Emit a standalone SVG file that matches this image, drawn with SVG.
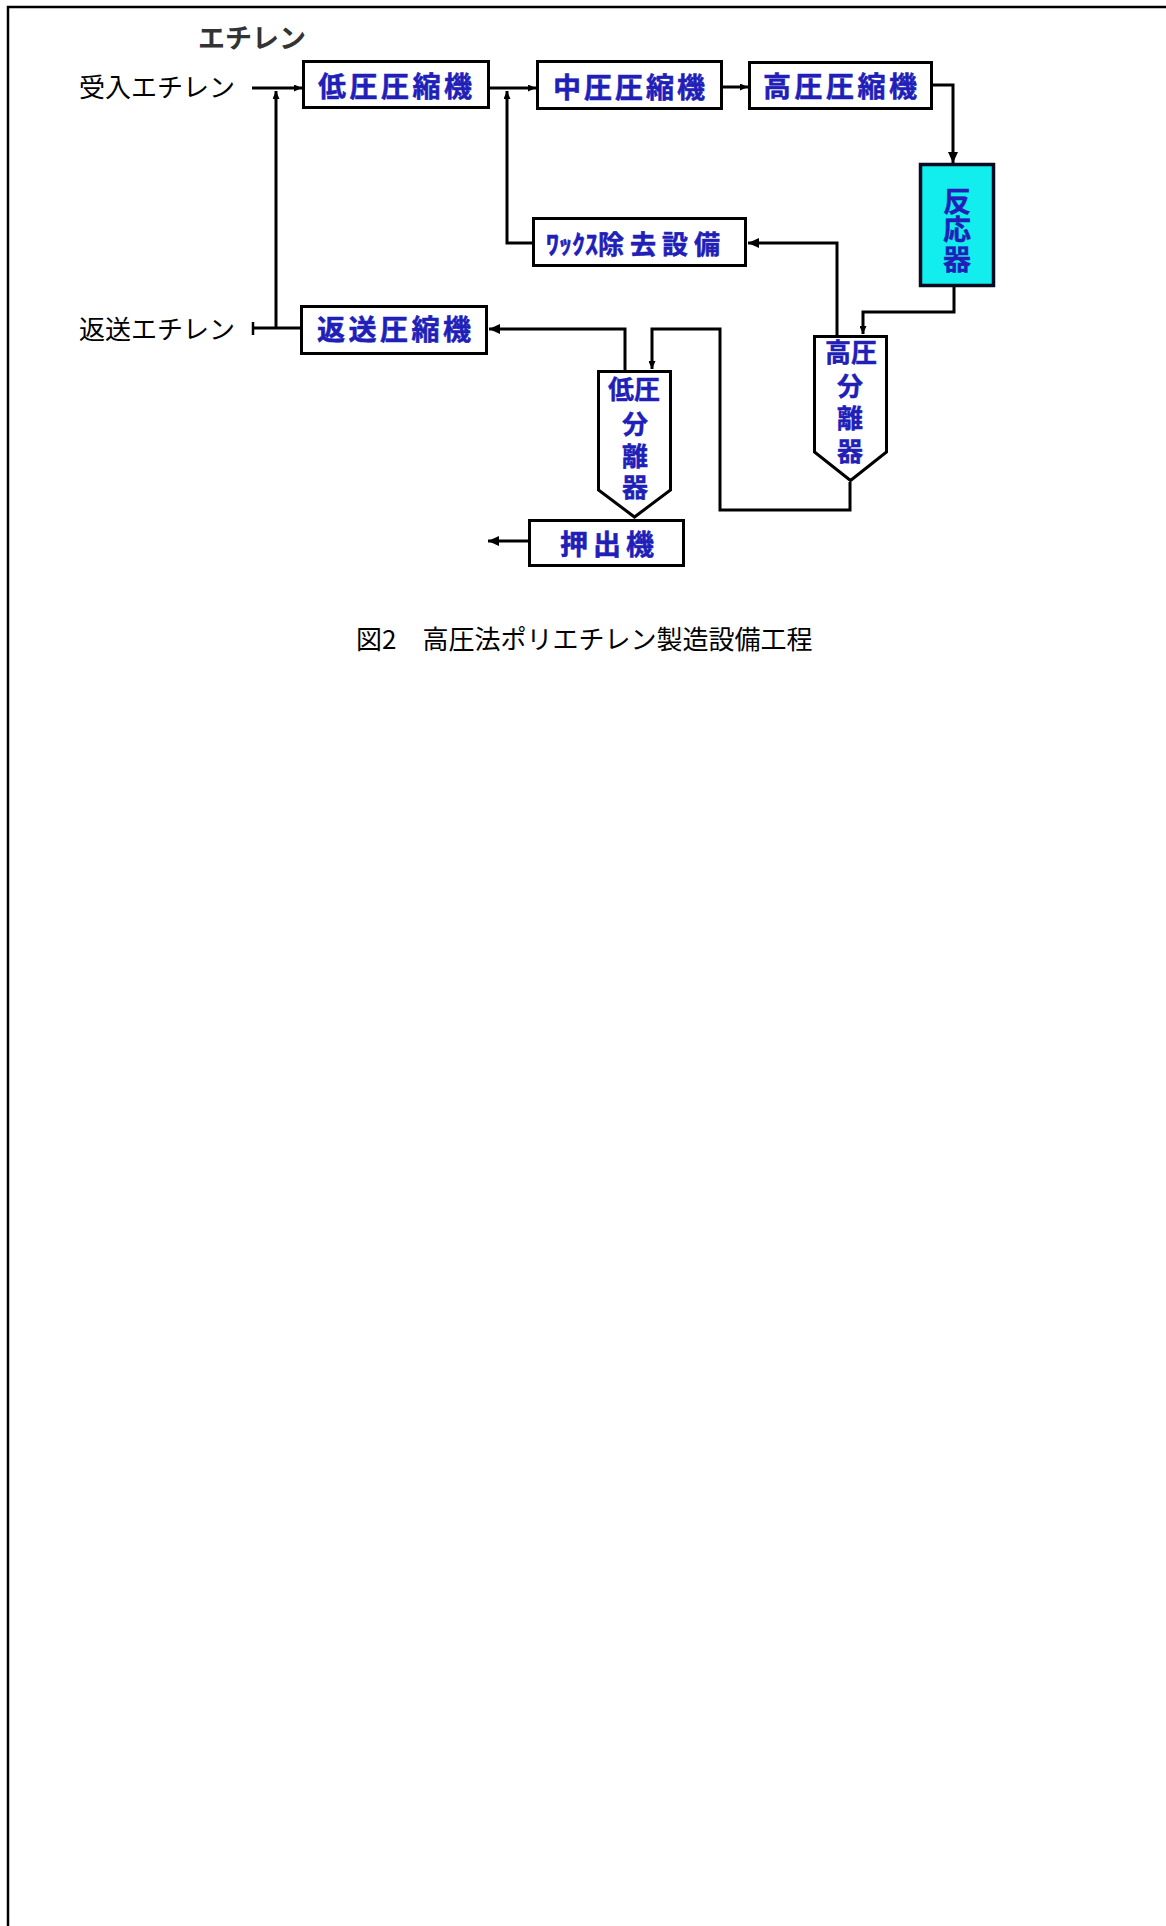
<svg xmlns="http://www.w3.org/2000/svg" width="1166" height="1926" viewBox="0 0 1166 1926">
<defs>
<style>
.frame{fill:none;stroke:#000;stroke-width:2.5}
.box{fill:#fff;stroke:#000;stroke-width:3}
.cyan{fill:#12eeee;stroke:#0a0a20;stroke-width:3.5}
.lbl{font-family:"Noto Sans CJK JP",sans-serif;font-size:26px;fill:#000}
.top{font-family:"Noto Sans CJK JP",sans-serif;font-size:27px;font-weight:bold;fill:#333}
.bt{font-family:"Noto Sans CJK JP",sans-serif;font-size:28px;font-weight:bold;fill:#2020b8;stroke:#2020b8;stroke-width:0.5}
.st{font-family:"Noto Sans CJK JP",sans-serif;font-size:26px;font-weight:bold;fill:#2020b8;stroke:#2020b8;stroke-width:0.4;text-anchor:middle}
.ln{fill:none;stroke:#000;stroke-width:3;stroke-linejoin:miter}
</style>
<marker id="am" markerWidth="12" markerHeight="10" refX="11" refY="5" orient="auto" markerUnits="userSpaceOnUse">
<path d="M0,0 L11,5 L0,10 z" fill="#000"/>
</marker>
<marker id="as" markerWidth="8" markerHeight="7" refX="8" refY="3.5" orient="auto" markerUnits="userSpaceOnUse">
<path d="M0,0 L8,3.5 L0,7 z" fill="#000"/>
</marker>
</defs>
<rect width="1166" height="1926" fill="#fff"/>
<path class="frame" d="M8,1926 V7 H1166"/>

<g id="connectors">
<path class="ln" d="M252,88 H302" marker-end="url(#as)"/>
<path class="ln" d="M276,328 V91" marker-end="url(#as)"/>
<path class="ln" d="M252,328 H301"/>
<path class="ln" d="M253,322 V335" style="stroke-width:2.5"/>
<path class="ln" d="M490,88 H536" marker-end="url(#as)"/>
<path class="ln" d="M533,243 H507 V91" marker-end="url(#as)"/>
<path class="ln" d="M723,87 H748" marker-end="url(#as)"/>
<path class="ln" d="M933,85 H953 V163" marker-end="url(#am)"/>
<path class="ln" d="M954,287 V312 H863 V334" marker-end="url(#as)"/>
<path class="ln" d="M837,335 V243 H748" marker-end="url(#am)"/>
<path class="ln" d="M850,482 V510 H720 V329 H652 V369" marker-end="url(#as)"/>
<path class="ln" d="M625,370 V329 H489" marker-end="url(#am)"/>
<path class="ln" d="M528,541 H488" marker-end="url(#am)"/>
</g>

<g id="label-ethylene"><text class="top" x="252" y="48" text-anchor="middle">エチレン</text></g>
<g id="label-ukeire"><text class="lbl" x="79" y="97">受入エチレン</text></g>
<g id="label-hensou"><text class="lbl" x="79" y="339">返送エチレン</text></g>

<g id="low-comp">
<rect class="box" x="303.5" y="61.5" width="185" height="46"/>
<text class="bt" x="318" y="97" textLength="154" lengthAdjust="spacing">低圧圧縮機</text>
</g>
<g id="mid-comp">
<rect class="box" x="537.5" y="61.5" width="184" height="47"/>
<text class="bt" x="553" y="98" textLength="152" lengthAdjust="spacing">中圧圧縮機</text>
</g>
<g id="high-comp">
<rect class="box" x="749.5" y="62.5" width="182" height="46"/>
<text class="bt" x="763" y="97" textLength="154" lengthAdjust="spacing">高圧圧縮機</text>
</g>
<g id="reactor">
<rect class="cyan" x="920.5" y="164.5" width="73" height="121"/>
<text class="st" x="957" y="212" style="font-size:28px">反</text>
<text class="st" x="957" y="240" style="font-size:28px">応</text>
<text class="st" x="957" y="270" style="font-size:28px">器</text>
</g>
<g id="wax">
<rect class="box" x="533.5" y="218.5" width="212" height="47"/>
<text class="bt" x="546" y="254" style="font-size:26px">ﾜｯｸｽ<tspan x="598" letter-spacing="6">除去設備</tspan></text>
</g>
<g id="return-comp">
<rect class="box" x="301.5" y="306.5" width="185" height="47"/>
<text class="bt" x="317" y="340" textLength="154" lengthAdjust="spacing">返送圧縮機</text>
</g>
<g id="low-sep">
<polygon class="box" points="598.5,371.5 670.5,371.5 670.5,490 634.5,517 598.5,490"/>
<text class="st" x="634" y="399">低圧</text>
<text class="st" x="635" y="434">分</text>
<text class="st" x="635" y="466">離</text>
<text class="st" x="635" y="497">器</text>
</g>
<g id="high-sep">
<polygon class="box" points="814.5,336.5 886.5,336.5 886.5,452 850.5,480.5 814.5,452"/>
<text class="st" x="851" y="362">高圧</text>
<text class="st" x="850" y="396">分</text>
<text class="st" x="850" y="428">離</text>
<text class="st" x="850" y="461">器</text>
</g>
<g id="extruder">
<rect class="box" x="529.5" y="520.5" width="154" height="45"/>
<text class="bt" x="560" y="555" textLength="94" lengthAdjust="spacing">押出機</text>
</g>
<g id="caption"><text class="lbl" x="356" y="649">図2　高圧法ポリエチレン製造設備工程</text></g>
</svg>
